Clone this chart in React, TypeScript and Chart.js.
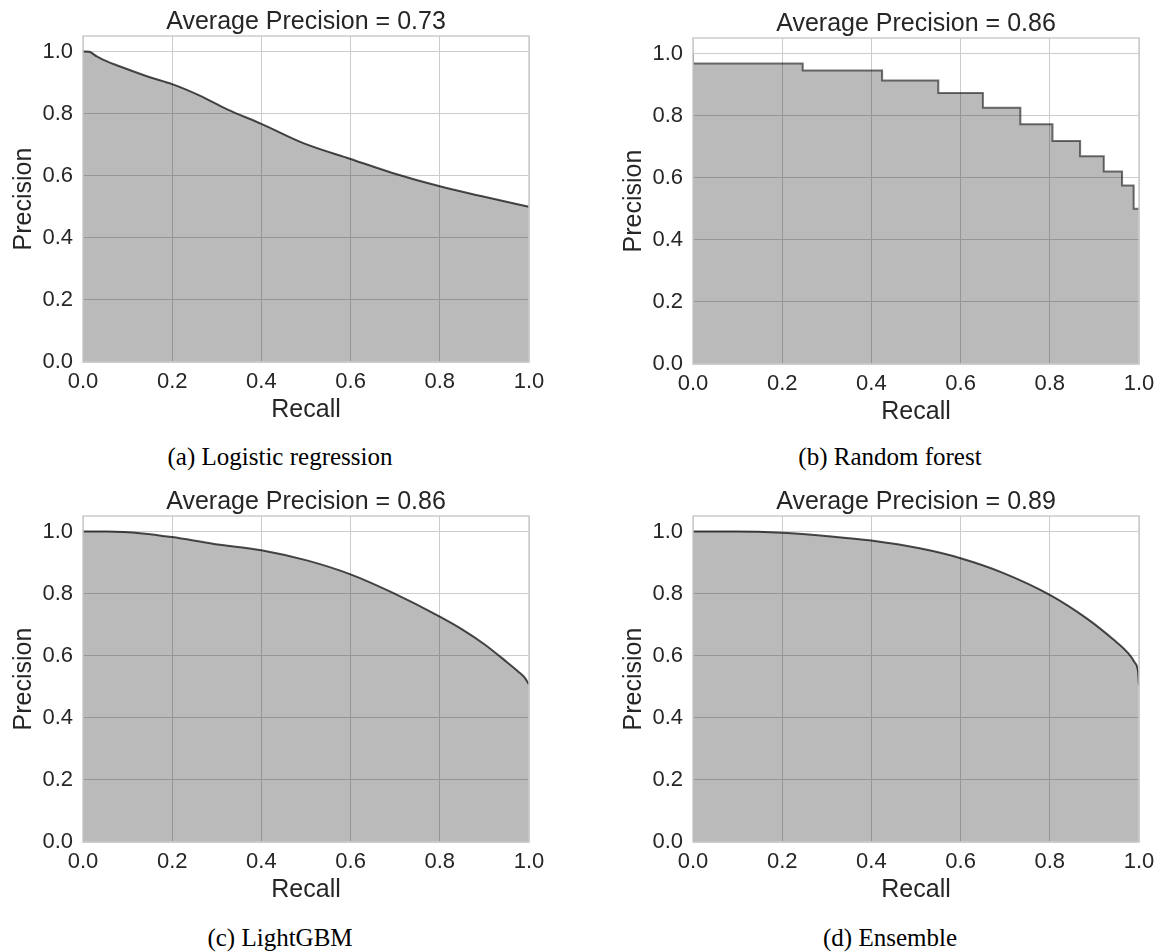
import React, { useEffect, useRef } from "react";
import { Chart, registerables } from "chart.js";

Chart.register(...registerables);

// ---------- data ----------
const lrRecall = [0, 0.014, 0.03, 0.046, 0.094, 0.15, 0.2, 0.262, 0.326, 0.4, 0.494, 0.6, 0.694, 0.8, 0.9, 1.0];
const lrPrecision = [1.0, 0.999, 0.985, 0.973, 0.946, 0.917, 0.895, 0.858, 0.812, 0.767, 0.705, 0.654, 0.609, 0.566, 0.532, 0.5];

const rfRecall = [0, 0, 0.246, 0.424, 0.55, 0.65, 0.734, 0.806, 0.868, 0.921, 0.962, 0.988, 1.0];
const rfPrecision = [1.0, 0.968, 0.945, 0.913, 0.873, 0.825, 0.772, 0.718, 0.669, 0.62, 0.575, 0.5, 0.5];

const lgbRecall = [0, 0.054, 0.134, 0.2, 0.294, 0.4, 0.502, 0.6, 0.694, 0.8, 0.85, 0.9, 0.95, 0.975, 0.99, 1.0];
const lgbPrecision = [1.0, 1.0, 0.994, 0.982, 0.96, 0.94, 0.907, 0.862, 0.803, 0.726, 0.685, 0.637, 0.58, 0.55, 0.53, 0.508];

const ensRecall = [0, 0.096, 0.2, 0.304, 0.4, 0.511, 0.6, 0.695, 0.8, 0.885, 0.942, 0.974, 0.99, 0.998, 1.0];
const ensPrecision = [1.0, 1.0, 0.996, 0.985, 0.971, 0.945, 0.914, 0.867, 0.796, 0.718, 0.653, 0.611, 0.579, 0.547, 0.504];

const apValues = ["0.73", "0.86", "0.86", "0.89"];
const captions = ["(a) Logistic regression", "(b) Random forest", "(c) LightGBM", "(d) Ensemble"];
const xAxisLabel = "Recall";
const yAxisLabel = "Precision";

// ---------- style ----------
const TEXT = "#262626";
const GRID = "#cccccc";
const SANS = "'Liberation Sans', Arial, sans-serif";
const CANVAS_W = 560;
const CANVAS_H = 430;

const framePlugin = {
  id: "frame",
  afterDatasetsDraw(chart: any) {
    const { ctx, chartArea } = chart;
    const { left, top, right, bottom } = chartArea;
    ctx.save();
    ctx.strokeStyle = GRID;
    ctx.lineWidth = 1.5;
    ctx.strokeRect(left, top, right - left, bottom - top);
    ctx.restore();
  },
  afterDraw(chart: any, _args: any, opts: any) {
    const { ctx, chartArea } = chart;
    ctx.save();
    ctx.fillStyle = TEXT;
    ctx.font = `25px ${SANS}`;
    ctx.textAlign = "center";
    ctx.textBaseline = "alphabetic";
    ctx.fillText(opts.text, (chartArea.left + chartArea.right) / 2, chartArea.top - 7);
    ctx.restore();
  },
};

type PanelProps = {
  recall: number[];
  precision: number[];
  ap: string;
  stepped: boolean;
  left: number;
  top: number;
};

function Panel({ recall, precision, ap, stepped, left, top }: PanelProps) {
  const ref = useRef<HTMLCanvasElement | null>(null);
  useEffect(() => {
    if (!ref.current) return;
    const data = recall.map((r, i) => ({ x: r, y: precision[i] }));
    const chart = new Chart(ref.current, {
      type: "line",
      data: {
        datasets: [
          {
            data,
            borderColor: stepped ? "rgba(0,0,0,0.55)" : "rgba(0,0,0,0.7)",
            borderWidth: 2,
            backgroundColor: "rgba(0,0,0,0.27)",
            fill: "origin",
            pointRadius: 0,
            stepped: stepped ? "before" : false,
            cubicInterpolationMode: stepped ? "default" : "monotone",
          } as any,
        ],
      },
      options: {
        responsive: false,
        animation: false,
        layout: { padding: { top: 36, right: 31, left: 0, bottom: 0 } },
        plugins: {
          legend: { display: false },
          tooltip: { enabled: false },
          frame: { text: `Average Precision = ${ap}` },
        } as any,
        scales: {
          x: {
            type: "linear",
            min: 0,
            max: 1,
            grid: { color: GRID, lineWidth: 1, drawTicks: false },
            border: { display: false },
            ticks: {
              stepSize: 0.2,
              padding: 7,
              color: TEXT,
              font: { size: 22, family: SANS },
              maxRotation: 0,
              callback: (v: any) => Number(v).toFixed(1),
            },
            title: {
              display: true,
              text: xAxisLabel,
              color: TEXT,
              font: { size: 25, family: SANS },
              padding: { top: 0, bottom: 5 },
            },
            afterFit: (s: any) => {
              s.height = 68;
            },
          },
          y: {
            type: "linear",
            min: 0,
            max: 1.05,
            grid: { color: GRID, lineWidth: 1, drawTicks: false },
            border: { display: false },
            ticks: {
              stepSize: 0.2,
              includeBounds: false,
              padding: 10,
              color: TEXT,
              font: { size: 22, family: SANS },
              callback: (v: any) => Number(v).toFixed(1),
            },
            title: {
              display: true,
              text: yAxisLabel,
              color: TEXT,
              font: { size: 25, family: SANS },
              padding: { top: 9, bottom: 0 },
            },
            afterFit: (s: any) => {
              s.width = 83;
            },
          },
        },
      } as any,
      plugins: [framePlugin],
    });
    return () => chart.destroy();
  }, [recall, precision, ap, stepped]);

  return (
    <canvas
      ref={ref}
      width={CANVAS_W}
      height={CANVAS_H}
      style={{ position: "absolute", left, top, width: CANVAS_W, height: CANVAS_H }}
    />
  );
}

function Caption({ text, left, top }: { text: string; left: number; top: number }) {
  return (
    <div
      style={{
        position: "absolute",
        left,
        top,
        width: CANVAS_W,
        textAlign: "center",
        fontFamily: "'Liberation Serif', 'Times New Roman', serif",
        fontSize: 25,
        lineHeight: "30px",
        color: "#000",
      }}
    >
      {text}
    </div>
  );
}

export default function App() {
  return (
    <div
      style={{
        position: "fixed",
        left: 0,
        top: 0,
        width: 1158,
        height: 952,
        background: "#fff",
        overflow: "hidden",
      }}
    >
      <Panel recall={lrRecall} precision={lrPrecision} ap={apValues[0]} stepped={false} left={0} top={0} />
      <Panel recall={rfRecall} precision={rfPrecision} ap={apValues[1]} stepped={true} left={610} top={2} />
      <Panel recall={lgbRecall} precision={lgbPrecision} ap={apValues[2]} stepped={false} left={0} top={480} />
      <Panel recall={ensRecall} precision={ensPrecision} ap={apValues[3]} stepped={false} left={610} top={480} />
      <Caption text={captions[0]} left={0} top={442} />
      <Caption text={captions[1]} left={610} top={442} />
      <Caption text={captions[2]} left={0} top={923} />
      <Caption text={captions[3]} left={610} top={923} />
    </div>
  );
}
